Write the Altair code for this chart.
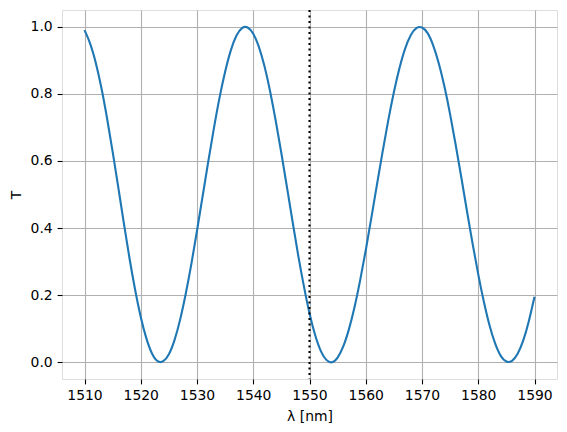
import altair as alt
import pandas as pd

# wavelength samples [nm]
wavelength = [
    1510, 1511, 1512, 1513, 1514, 1515, 1516, 1517, 1518, 1519,
    1520, 1521, 1522, 1523, 1524, 1525, 1526, 1527, 1528, 1529,
    1530, 1531, 1532, 1533, 1534, 1535, 1536, 1537, 1538, 1539,
    1540, 1541, 1542, 1543, 1544, 1545, 1546, 1547, 1548, 1549,
    1550, 1551, 1552, 1553, 1554, 1555, 1556, 1557, 1558, 1559,
    1560, 1561, 1562, 1563, 1564, 1565, 1566, 1567, 1568, 1569,
    1570, 1571, 1572, 1573, 1574, 1575, 1576, 1577, 1578, 1579,
    1580, 1581, 1582, 1583, 1584, 1585, 1586, 1587, 1588, 1589,
    1590,
]
# transmission values
transmission = [
    0.990, 0.950, 0.893, 0.818, 0.728, 0.628, 0.522, 0.414, 0.310, 0.216,
    0.135, 0.071, 0.026, 0.003, 0.003, 0.024, 0.066, 0.127, 0.204, 0.293,
    0.392, 0.495, 0.598, 0.697, 0.788, 0.866, 0.929, 0.973, 0.996, 0.998,
    0.979, 0.940, 0.882, 0.807, 0.719, 0.623, 0.521, 0.418, 0.318, 0.227,
    0.146, 0.081, 0.034, 0.007, 0.000, 0.014, 0.047, 0.098, 0.164, 0.244,
    0.334, 0.431, 0.530, 0.628, 0.721, 0.805, 0.877, 0.935, 0.975, 0.996,
    0.998, 0.981, 0.944, 0.890, 0.821, 0.739, 0.647, 0.550, 0.450, 0.353,
    0.262, 0.180, 0.110, 0.056, 0.019, 0.002, 0.004, 0.025, 0.065, 0.123,
    0.195,
]
marker_wavelength = [1550]

x_ticks = [1510, 1520, 1530, 1540, 1550, 1560, 1570, 1580, 1590]
y_ticks = [0.0, 0.2, 0.4, 0.6, 0.8, 1.0]

df = pd.DataFrame({"wl": wavelength, "T": transmission})
df_marker = pd.DataFrame({"wl": marker_wavelength})

FONT = "DejaVu Sans"
FS = 13.9

x_scale = alt.Scale(domain=[1506, 1594], nice=False, zero=False)
y_scale = alt.Scale(domain=[-0.05, 1.05], nice=False, zero=False)

x_axis = alt.Axis(
    values=x_ticks, format="d", title="λ [nm]",
    grid=True, gridColor="#b0b0b0", gridWidth=1.1,
    domain=False, tickColor="black", tickWidth=1.1, tickSize=4.9,
    labelPadding=4.9, labelFont=FONT, labelFontSize=FS, labelColor="black",
    titleFont=FONT, titleFontSize=FS, titleFontWeight="normal",
    titleColor="black", titlePadding=7,
)
y_axis = alt.Axis(
    values=y_ticks, format=".1f", title="T",
    grid=True, gridColor="#b0b0b0", gridWidth=1.1,
    domain=False, tickColor="black", tickWidth=1.1, tickSize=4.9,
    labelPadding=4.9, labelFont=FONT, labelFontSize=FS, labelColor="black",
    titleFont=FONT, titleFontSize=FS, titleFontWeight="normal",
    titleColor="black", titlePadding=7,
)

line = alt.Chart(df).mark_line(
    color="#1f77b4", strokeWidth=2.1, interpolate="natural", clip=True
).encode(
    x=alt.X("wl:Q", scale=x_scale, axis=x_axis),
    y=alt.Y("T:Q", scale=y_scale, axis=y_axis),
)

rule = alt.Chart(df_marker).mark_rule(
    color="black", strokeWidth=2.1, strokeDash=[2.1, 3.4]
).encode(
    x=alt.X("wl:Q", scale=x_scale),
)

chart = alt.layer(line, rule).properties(
    width=495, height=369,
    autosize=alt.AutoSizeParams(type="none"),
    padding={"left": 54, "top": 2, "right": 2, "bottom": 45},
).configure_view(
    stroke="black", strokeWidth=1.1,
).configure(background="white")

chart.save("out.html", embed_options={"renderer": "svg", "actions": False})
